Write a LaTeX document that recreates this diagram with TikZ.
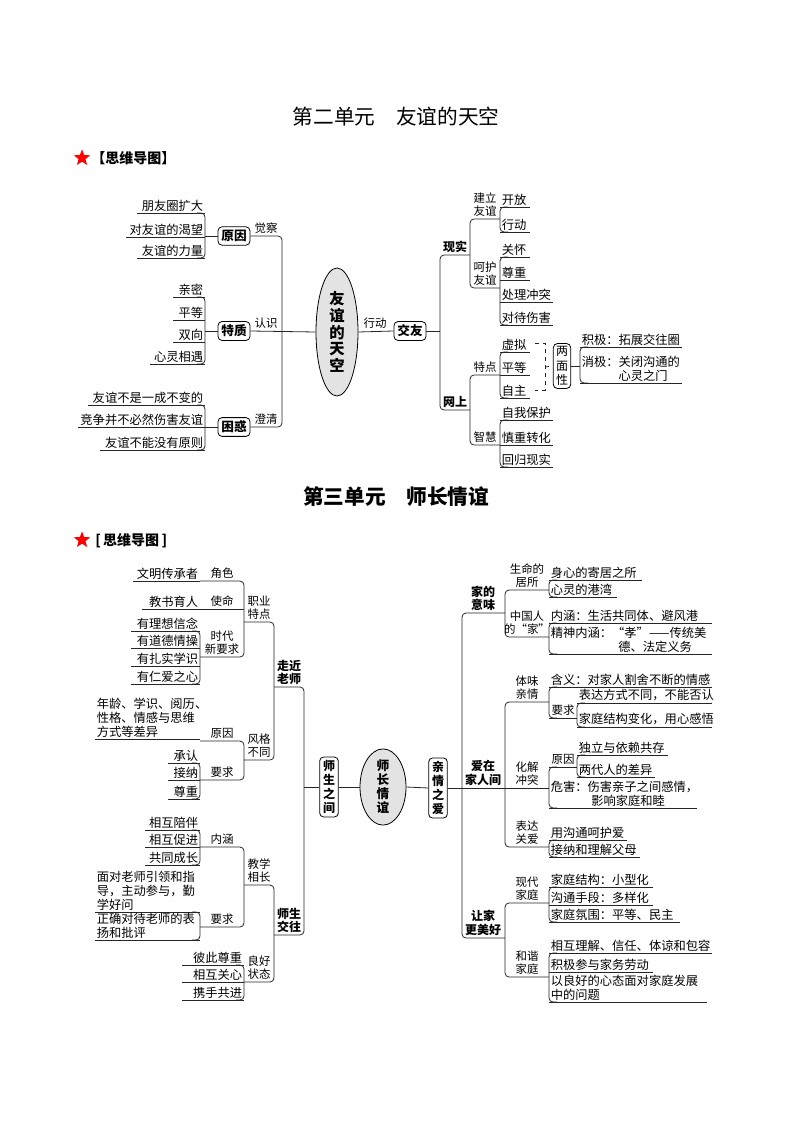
\documentclass[tikz,border=0pt]{standalone}
\usepackage{fontspec}
\setmainfont{Noto Sans CJK SC}
\usetikzlibrary{shapes.geometric}
\tikzset{
 ln/.style={line width=0.6pt, black!85},
 rc/.style={ln, rounded corners=3pt},
 lt/.style={font=\fontsize{9.2}{10.2}\selectfont, inner sep=1.2pt, align=left},
 lb/.style={font=\fontsize{8.6}{10.2}\selectfont, inner sep=1.5pt, align=center, anchor=south},
 hb/.style={font=\fontsize{9}{10.2}\selectfont\bfseries, inner sep=1.5pt, align=center, anchor=south},
 bx/.style={draw, rounded corners=3pt, line width=0.6pt, font=\fontsize{9.5}{11}\selectfont\bfseries, inner sep=2.5pt, align=center},
 ell/.style={ellipse, draw, line width=0.6pt, fill=gray!22, inner sep=0pt, align=center},
 redstar/.style={star, star points=5, star point ratio=2.4, fill=red, inner sep=0pt, minimum size=13pt}
}
\newcommand\lfR[4]{\draw[ln] (#1,#3)--(#2,#3); \node[lt,anchor=south west] at (#1,#3) {#4};}
\newcommand\lfL[4]{\draw[ln] (#1,#3)--(#2,#3); \node[lt,anchor=south east] at (#2,#3) {#4};}
\newcommand\brR[3]{\draw[rc] (#1+8,#2)--(#1,#2)--(#1,#3)--(#1+8,#3);}
\newcommand\brL[3]{\draw[rc] (#1-8,#2)--(#1,#2)--(#1,#3)--(#1-8,#3);}
\begin{document}
\begin{tikzpicture}[x=0.75pt,y=-0.75pt]
\useasboundingbox (0,0) rectangle (794,1123);
% titles
\node[font=\fontsize{15.5}{17}\selectfont] (t1) at (396,117) {第二单元\hspace{1em}友谊的天空};
\node[redstar] (s1) at (82,158) {};
\node[font=\fontsize{10.5}{12}\selectfont\bfseries, anchor=west, inner sep=0pt] (h1) at (91,158) {【思维导图】};
\node[font=\fontsize{15.5}{17}\selectfont\bfseries] (t2) at (396,497) {第三单元\hspace{1em}师长情谊};
\node[redstar] (s2) at (82,540) {};
\node[font=\fontsize{10.5}{12}\selectfont\bfseries, anchor=west, inner sep=0pt] (h2) at (95,541) {[\,思维导图\,]};

%% ---------- Part 1 ----------
\node[ell, minimum width=31.5pt, minimum height=96pt, font=\fontsize{11.5}{12.5}\selectfont\bfseries] (c1) at (337,332) {友\\谊\\的\\天\\空};
\node[bx] (yy) at (234,236) {原因};
\node[bx] (tz) at (234,331) {特质};
\node[bx] (kh) at (234,427) {困惑};
\node[bx] (jy) at (410,331) {交友};
\draw[rc] (yy.east)--(282,236)--(282,427)--(kh.east);
\draw[ln] (tz.east)--(c1.west);
\node[lb] at (266,236) {觉察};
\node[lb] at (266,331) {认识};
\node[lb] at (266,427) {澄清};
\lfL{137}{205}{213}{朋友圈扩大}
\lfL{126}{205}{237}{对友谊的渴望}
\lfL{137}{205}{258}{友谊的力量}
\brL{205}{213}{258}
\draw[ln] (205,236)--(yy.west);
\lfL{173}{205}{297}{亲密}
\lfL{173}{205}{320}{平等}
\lfL{173}{205}{342}{双向}
\lfL{150}{205}{364}{心灵相遇}
\brL{205}{297}{364}
\draw[ln] (205,331)--(tz.west);
\lfL{88}{205}{405}{友谊不是一成不变的}
\lfL{78}{205}{427}{竞争并不必然伤害友谊}
\lfL{100}{205}{450}{友谊不能没有原则}
\brL{205}{405}{450}
\draw[ln] (205,427)--(kh.west);
\draw[ln] (c1.east)--(jy.west);
\node[lb] at (375,331) {行动};
\draw[ln] (jy.east)--(440,331);
\draw[rc] (470,255)--(440,255)--(440,410)--(470,410);
\node[hb] at (455,255) {现实};
\node[hb] at (455,410) {网上};
\draw[rc] (500,219)--(470,219)--(470,288)--(500,288);
\node[lb] at (485,219) {建立\\友谊};
\node[lb] at (485,288) {呵护\\友谊};
\brR{500}{207}{232}
\lfR{500}{530}{207}{开放}
\lfR{500}{530}{232}{行动}
\brR{500}{257}{325}
\lfR{500}{530}{257}{关怀}
\lfR{500}{530}{280}{尊重}
\lfR{500}{553}{302}{处理冲突}
\lfR{500}{553}{325}{对待伤害}
\draw[rc] (500,375)--(470,375)--(470,445)--(500,445);
\node[lb] at (485,375) {特点};
\node[lb] at (485,445) {智慧};
\brR{500}{352}{398}
\lfR{500}{530}{352}{虚拟}
\lfR{500}{530}{375}{平等}
\lfR{500}{530}{398}{自主}
\node[draw, rounded corners=3pt, line width=0.6pt, font=\fontsize{9}{11}\selectfont, align=center, inner sep=2pt] (lm) at (562,366) {两\\面\\性};
\draw[ln, dashed] (535,343)--(545,343)--(545,390)--(535,390);
\draw[ln, dashed] (545,367)--(lm.west);
\draw[ln] (lm.east)--(580,366);
\brR{580}{347}{383}
\lfR{580}{682}{347}{积极：拓展交往圈}
\lfR{580}{682}{383}{消极：关闭沟通的\\\hspace*{3em}心灵之门}
\brR{500}{420}{467}
\lfR{500}{553}{420}{自我保护}
\lfR{500}{553}{445}{慎重转化}
\lfR{500}{553}{467}{回归现实}

%% ---------- Part 3 ----------
\node[ell, minimum width=34.5pt, minimum height=52pt, font=\fontsize{9.5}{10.5}\selectfont\bfseries] (c2) at (383,787) {师\\长\\情\\谊};
\node[bx, minimum height=41pt, font=\fontsize{9}{10.5}\selectfont\bfseries] (ss) at (329,787) {师\\生\\之\\间};
\node[bx, minimum height=42pt, font=\fontsize{9}{10.5}\selectfont\bfseries] (qq) at (438,788) {亲\\情\\之\\爱};
\draw[ln] (ss.east)--(c2.west);
\draw[ln] (c2.east)--(qq.west);
\draw[ln] (ss.west)--(304,787);
\draw[rc] (274,687)--(304,687)--(304,935)--(274,935);
\node[hb] at (289,687) {走近\\老师};
\node[hb] at (289,935) {师生\\交往};
\draw[rc] (244,622)--(274,622)--(274,760)--(244,760);
\node[lb] at (259,622) {职业\\特点};
\node[lb] at (259,760) {风格\\不同};
\draw[rc] (200,581)--(244,581)--(244,657)--(200,657);
\draw[ln] (200,609)--(244,609);
\node[lb] at (222,581) {角色};
\node[lb] at (222,609) {使命};
\node[lb] at (222,657) {时代\\新要求};
\lfL{133}{200}{581}{文明传承者}
\lfL{142}{200}{609}{教书育人}
\brL{200}{631}{684}
\lfL{131}{200}{631}{有理想信念}
\lfL{131}{200}{648}{有道德情操}
\lfL{131}{200}{666}{有扎实学识}
\lfL{131}{200}{684}{有仁爱之心}
\draw[rc] (200,741)--(244,741)--(244,780)--(200,780);
\node[lb] at (222,741) {原因};
\node[lb] at (222,780) {要求};
\lfR{95}{200}{739}{年龄、学识、阅历、\\性格、情感与思维\\方式等差异}
\brL{200}{763}{799}
\lfL{168}{200}{763}{承认}
\lfL{168}{200}{780}{接纳}
\lfL{168}{200}{799}{尊重}
\draw[rc] (244,885)--(274,885)--(274,982)--(244,982);
\node[lb] at (259,885) {教学\\相长};
\node[lb] at (259,982) {良好\\状态};
\draw[rc] (200,847)--(244,847)--(244,927)--(200,927);
\node[lb] at (222,847) {内涵};
\node[lb] at (222,927) {要求};
\brL{200}{830}{865}
\lfL{145}{200}{830}{相互陪伴}
\lfL{145}{200}{847}{相互促进}
\lfL{145}{200}{865}{共同成长}
\brL{200}{912}{940}
\lfR{95}{200}{912}{面对老师引领和指\\导，主动参与，勤\\学好问}
\lfR{95}{200}{940}{正确对待老师的表\\扬和批评}
\brL{244}{965}{1000}
\lfL{182}{244}{965}{彼此尊重}
\lfL{182}{244}{982}{相互关心}
\lfL{182}{244}{1000}{携手共进}
\draw[ln] (qq.east)--(462,788);
\draw[rc] (505,613)--(462,613)--(462,938)--(505,938);
\draw[ln] (462,788)--(505,788);
\node[hb] at (483,613) {家的\\意味};
\node[hb] at (483,788) {爱在\\家人间};
\node[hb] at (483,938) {让家\\更美好};
\draw[rc] (549,590)--(505,590)--(505,637)--(549,637);
\node[lb] at (527,590) {生命的\\居所};
\node[lb] at (527,637) {中国人\\的“家”};
\brR{549}{580}{597}
\lfR{549}{642}{580}{身心的寄居之所}
\lfR{549}{617}{597}{心灵的港湾}
\brR{549}{623}{654}
\lfR{549}{712}{623}{内涵：生活共同体、避风港}
\lfR{549}{712}{654}{精神内涵：“孝”——传统美\\\hspace*{5.5em}德、法定义务}
\draw[rc] (549,702)--(505,702)--(505,847)--(549,847);
\draw[ln] (505,788)--(549,788);
\node[lb] at (527,702) {体味\\亲情};
\node[lb] at (527,788) {化解\\冲突};
\node[lb] at (527,847) {表达\\关爱};
\brR{549}{687}{718}
\lfR{549}{712}{687}{含义：对家人割舍不断的情感}
\draw[ln] (549,718)--(577,718);
\node[lb] at (563,718) {要求};
\brR{577}{703}{727}
\lfR{577}{712}{703}{表达方式不同，不能否认}
\lfR{577}{712}{727}{家庭结构变化，用心感悟}
\brR{549}{767}{808}
\draw[ln] (549,767)--(577,767);
\node[lb] at (563,767) {原因};
\brR{577}{755}{777}
\lfR{577}{668}{755}{独立与依赖共存}
\lfR{577}{655}{777}{两代人的差异}
\lfR{549}{697}{808}{危害：伤害亲子之间感情，\\\hspace*{3.3em}影响家庭和睦}
\brR{549}{840}{857}
\lfR{549}{627}{840}{用沟通呵护爱}
\lfR{549}{640}{857}{接纳和理解父母}
\draw[rc] (549,903)--(505,903)--(505,977)--(549,977);
\node[lb] at (527,903) {现代\\家庭};
\node[lb] at (527,977) {和谐\\家庭};
\brR{549}{887}{922}
\lfR{549}{653}{887}{家庭结构：小型化}
\lfR{549}{653}{905}{沟通手段：多样化}
\lfR{549}{680}{922}{家庭氛围：平等、民主}
\brR{549}{953}{1002}
\lfR{549}{712}{953}{相互理解、信任、体谅和包容}
\lfR{549}{653}{972}{积极参与家务劳动}
\lfR{549}{707}{1002}{以良好的心态面对家庭发展\\中的问题}
\end{tikzpicture}
\end{document}
